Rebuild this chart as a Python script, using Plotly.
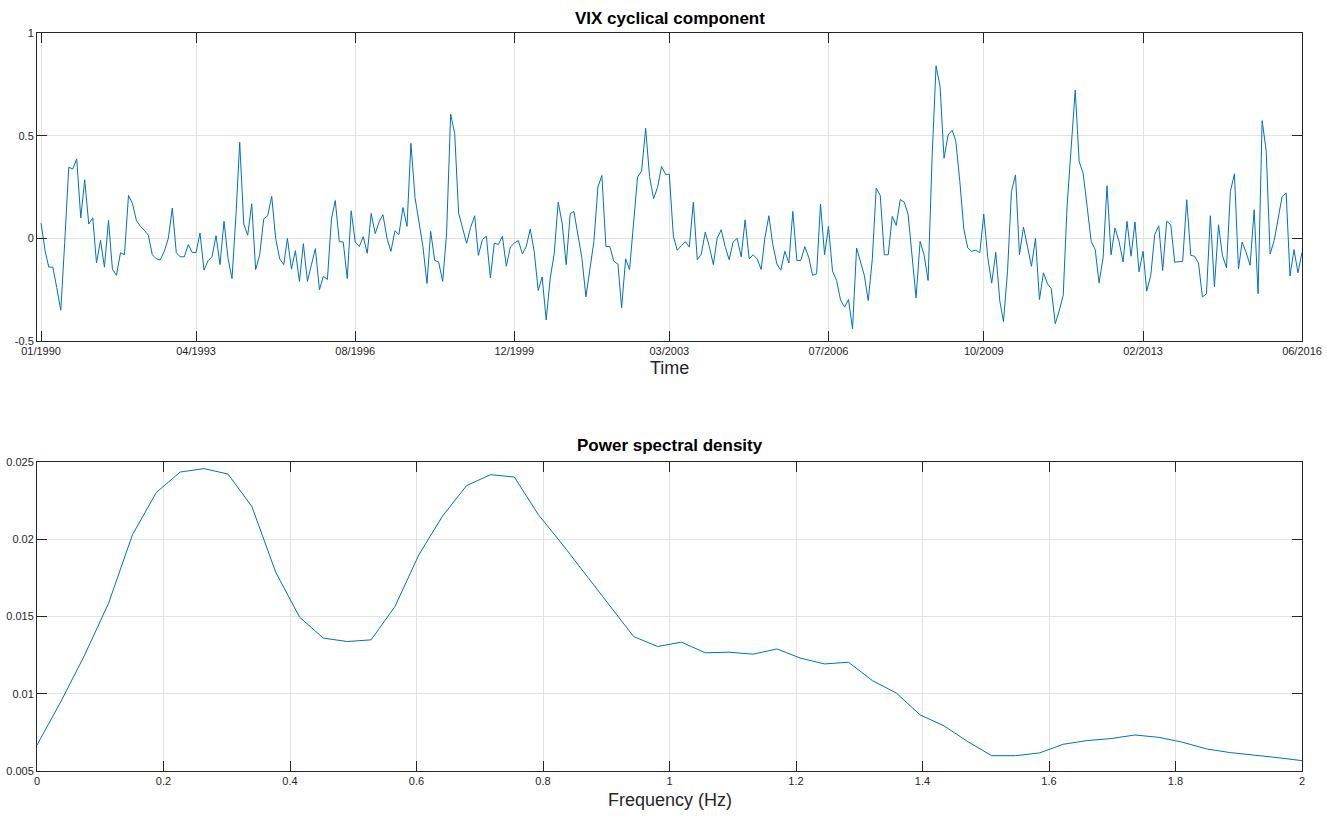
import pandas as pd
import plotly.graph_objects as go

# ---------------- data: VIX cyclical component (monthly, 01/1990 - 06/2016) ----------------
vix_a = [0.074, -0.06, -0.14, -0.14, -0.24, -0.35, -0.02, 0.346, 0.338, 0.387,
         0.099, 0.285, 0.07, 0.10, -0.12, -0.01, -0.14, 0.087, -0.15, -0.18,
         -0.07, -0.08, 0.209, 0.17, 0.086, 0.058, 0.039, 0.015, -0.08, -0.10,
         -0.105, -0.063, 0.0, 0.147, -0.07, -0.09, -0.09, -0.03, -0.068, -0.07,
         0.026, -0.155, -0.11, -0.09, 0.013, -0.128, 0.083, -0.095, -0.196, 0.12,
         0.468, 0.07, 0.015, 0.168, -0.152, -0.08, 0.095, 0.11, 0.204, 0.0,
         -0.10, -0.128, 0.0]
vix_b = [-0.15, -0.06, -0.21, -0.026, -0.21, -0.128, -0.05, -0.25, -0.185, -0.2,
         0.095, 0.184, -0.016, -0.018, -0.196, 0.134, -0.018, -0.04, 0.008, -0.073,
         0.121, 0.023, 0.083, 0.115, 0.0, -0.063, 0.037, 0.018, 0.15, 0.058,
         0.463, 0.2, 0.083, -0.04, -0.22, 0.034, -0.108, -0.115, -0.21, 0.026,
         0.605, 0.511, 0.123, 0.047, -0.024, 0.053, 0.11, -0.083, -0.006, 0.01,
         -0.193, -0.023, -0.03, 0.01, -0.136, -0.042, -0.023, -0.011, -0.076, -0.04,
         0.045, -0.063, -0.254]
vix_c = [-0.188, -0.398, -0.193, -0.076, 0.176, 0.074, -0.128, 0.12, 0.131, 0.026,
         -0.095, -0.285, -0.16, -0.015, 0.25, 0.306, -0.04, -0.04, -0.112, -0.125,
         -0.338, -0.1, -0.152, 0.066, 0.298, 0.328, 0.536, 0.3, 0.193, 0.248,
         0.35, 0.312, 0.312, 0.01, -0.058, -0.036, -0.016, -0.042, 0.176, -0.104,
         -0.076, 0.03, -0.04, -0.128, 0.0, 0.042, -0.04, -0.104, -0.018, 0.0,
         -0.09, 0.09, -0.1, -0.08, -0.1, -0.152, 0.0, 0.11, -0.03, -0.125,
         -0.155, -0.063, -0.12]
vix_d = [0.131, -0.108, -0.108, -0.04, -0.095, -0.18, -0.173, 0.167, -0.08, 0.058,
         -0.16, -0.205, -0.3, -0.335, -0.298, -0.44, -0.047, -0.115, -0.18, -0.303,
         -0.104, 0.244, 0.209, -0.08, -0.08, 0.107, 0.063, 0.189, 0.176, 0.118,
         -0.095, -0.29, -0.015, -0.08, -0.205, 0.40, 0.84, 0.738, 0.39, 0.503,
         0.527, 0.474, 0.277, 0.047, -0.047, -0.063, -0.058, -0.07, 0.118, -0.095,
         -0.218, -0.068, -0.306, -0.406, -0.16, 0.228, 0.309, -0.08, 0.055, -0.034,
         -0.136, 0.0, -0.298]
vix_e = [-0.168, -0.222, -0.244, -0.416, -0.354, -0.277, 0.163, 0.422, 0.722, 0.374,
         0.314, 0.155, -0.015, -0.055, -0.217, -0.095, 0.256, -0.08, 0.05, -0.015,
         -0.115, 0.083, -0.087, 0.08, -0.163, -0.063, -0.257, -0.18, 0.018, 0.061,
         -0.157, 0.083, 0.066, -0.116, -0.115, -0.112, 0.188, -0.083, -0.087, -0.12,
         -0.285, -0.27, 0.11, -0.236, 0.066, -0.083, -0.144, 0.228, 0.314, -0.149,
         -0.018, -0.07, -0.131, 0.139, -0.27, 0.573, 0.426, -0.076, -0.011, 0.099,
         0.204, 0.22, -0.184, -0.055, -0.168, -0.068]
vix_cycle = vix_a + vix_b + vix_c + vix_d + vix_e
months = pd.date_range("1990-01-01", periods=len(vix_cycle), freq="MS")

time_tick_dates = ["1990-01-01", "1993-04-01", "1996-08-01", "1999-12-01", "2003-03-01",
                   "2006-07-01", "2009-10-01", "2013-02-01", "2016-06-01"]
time_tick_labels = ["01/1990", "04/1993", "08/1996", "12/1999", "03/2003",
                    "07/2006", "10/2009", "02/2013", "06/2016"]

# ---------------- data: power spectral density ----------------
freq = [0.0, 0.0377, 0.0755, 0.1132, 0.1509, 0.1887, 0.2264, 0.2642, 0.3019, 0.3396,
        0.3774, 0.4151, 0.4528, 0.4906, 0.5283, 0.5660, 0.6038, 0.6415, 0.6792, 0.7170,
        0.7547, 0.7925, 0.8302, 0.8679, 0.9057, 0.9434, 0.9811, 1.0189, 1.0566, 1.0943,
        1.1321, 1.1698, 1.2075, 1.2453, 1.2830, 1.3208, 1.3585, 1.3962, 1.4340, 1.4717,
        1.5094, 1.5472, 1.5849, 1.6226, 1.6604, 1.6981, 1.7358, 1.7736, 1.8113, 1.8491,
        1.8868, 1.9245, 1.9623, 2.0]
psd = [0.00668, 0.00949, 0.01252, 0.01586, 0.02029, 0.02303, 0.02435, 0.02457, 0.02422, 0.02213,
       0.01787, 0.01496, 0.0136, 0.01338, 0.01349, 0.01565, 0.019, 0.02152, 0.02347, 0.02418,
       0.02403, 0.0216, 0.01969, 0.0177, 0.01565, 0.0137, 0.01306, 0.01334, 0.01265, 0.01269,
       0.01256, 0.0129, 0.0123, 0.01193, 0.01204, 0.01085, 0.01005, 0.00863, 0.00792, 0.0069,
       0.00599, 0.00599, 0.00617, 0.00673, 0.00697, 0.0071, 0.00733, 0.00718, 0.00686, 0.00643,
       0.00619, 0.00604, 0.00586, 0.00567]

psd_yticks = [0.005, 0.01, 0.015, 0.02, 0.025]
psd_ytext = ["0.005", "0.01", "0.015", "0.02", "0.025"]
freq_ticks = [0, 0.2, 0.4, 0.6, 0.8, 1, 1.2, 1.4, 1.6, 1.8, 2]
freq_text = ["0", "0.2", "0.4", "0.6", "0.8", "1", "1.2", "1.4", "1.6", "1.8", "2"]
vix_yticks = [-0.5, 0, 0.5, 1]
vix_ytext = ["-0.5", "0", "0.5", "1"]

# ---------------- figure ----------------
W, H = 1327, 816
LINE = "#0072BD"
AX = "#262626"
GRID = "#e3e3e3"
FONT = "Liberation Sans, Arial, sans-serif"

fig = go.Figure()
fig.add_trace(go.Scatter(x=months, y=vix_cycle, mode="lines",
                         line=dict(color=LINE, width=1), xaxis="x", yaxis="y",
                         showlegend=False))
fig.add_trace(go.Scatter(x=freq, y=psd, mode="lines",
                         line=dict(color=LINE, width=1), xaxis="x2", yaxis="y2",
                         showlegend=False))

xl, xr = 37 / W, 1302 / W
common = dict(showline=True, linecolor=AX, linewidth=1, mirror="ticks",
              ticks="inside", ticklen=10, tickcolor=AX, tickwidth=1,
              showgrid=True, gridcolor=GRID, gridwidth=1, zeroline=False,
              automargin=False,
              tickfont=dict(family=FONT, size=11, color="#262626"))

fig.update_layout(
    template="none",
    width=W, height=H,
    margin=dict(l=0, r=0, t=0, b=0, pad=0),
    paper_bgcolor="white", plot_bgcolor="white",
    showlegend=False,
    xaxis=dict(domain=[xl, xr], type="date", range=["1989-12-01", "2016-06-01"],
               tickvals=time_tick_dates, ticktext=time_tick_labels, anchor="y", **common),
    yaxis=dict(domain=[1 - 341 / H, 1 - 33 / H], range=[-0.5, 1],
               tickvals=vix_yticks, ticktext=vix_ytext, anchor="x", **common),
    xaxis2=dict(domain=[xl, xr], range=[0, 2], tickvals=freq_ticks, ticktext=freq_text,
                anchor="y2", **common),
    yaxis2=dict(domain=[1 - 771 / H, 1 - 462 / H], range=[0.005, 0.025],
                tickvals=psd_yticks, ticktext=psd_ytext, anchor="x2", **common),
    annotations=[
        dict(text="<b>VIX cyclical component</b>", x=(xl + xr) / 2, y=1 - 18 / H,
             xref="paper", yref="paper", showarrow=False, xanchor="center", yanchor="middle",
             font=dict(family=FONT, size=17, color="black")),
        dict(text="<b>Power spectral density</b>", x=(xl + xr) / 2, y=1 - 446 / H,
             xref="paper", yref="paper", showarrow=False, xanchor="center", yanchor="middle",
             font=dict(family=FONT, size=17, color="black")),
        dict(text="Time", x=(xl + xr) / 2, y=1 - 368 / H,
             xref="paper", yref="paper", showarrow=False, xanchor="center", yanchor="middle",
             font=dict(family=FONT, size=18, color="#262626")),
        dict(text="Frequency (Hz)", x=(xl + xr) / 2, y=1 - 800 / H,
             xref="paper", yref="paper", showarrow=False, xanchor="center", yanchor="middle",
             font=dict(family=FONT, size=18, color="#262626")),
    ],
)

fig.write_html("out.html",
               config={"displayModeBar": False},
               post_script="document.body.style.margin='0';document.body.style.overflow='hidden';")
